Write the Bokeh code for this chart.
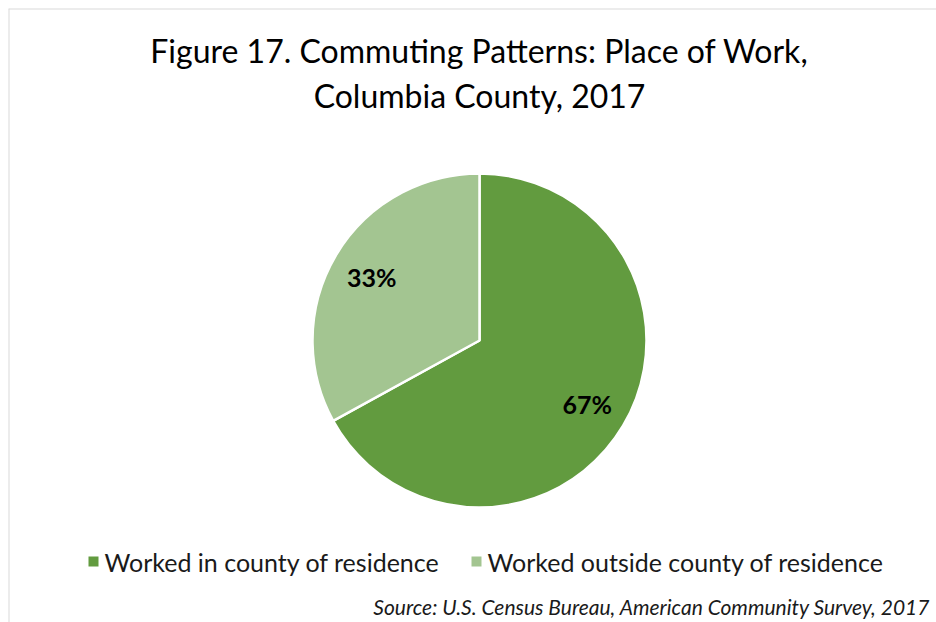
import math
from bokeh.plotting import figure
from bokeh.models import Range1d, ColumnDataSource, Span
from bokeh.core.properties import value
from bokeh.embed import file_html
from bokeh.resources import INLINE

# ---- data ----
categories = ["Worked in county of residence", "Worked outside county of residence"]
shares = [67, 33]
labels = ["67%", "33%"]
colors = ["#629B3F", "#A3C591"]
title_lines = ["Figure 17. Commuting Patterns: Place of Work,", "Columbia County, 2017"]
source_note = "Source: U.S. Census Bureau, American Community Survey, 2017"

W, H = 936, 622
OFF = 8
FW, FH = W - OFF, H - OFF
FONT = "Lato"

p = figure(width=W, height=H, output_backend="svg", toolbar_location=None,
           x_range=Range1d(0, FW), y_range=Range1d(0, FH),
           min_border_left=OFF, min_border_top=OFF, min_border_right=0, min_border_bottom=0)
p.xaxis.visible = False
p.yaxis.visible = False
p.grid.visible = False
p.background_fill_color = "white"
p.border_fill_color = "white"
p.outline_line_color = None

# chart-area border (only top and left edges are visible in the reference)
p.add_layout(Span(location=0, dimension="height", line_color="#d9d9d9", line_width=2))
p.add_layout(Span(location=FH, dimension="width", line_color="#d9d9d9", line_width=2))


def Y(py):
    return H - py


def X(px):
    return px - OFF


# pie
cx, cy, R = X(479), Y(340), 167
total = sum(shares)
starts, ends, lx, ly = [], [], [], []
a = math.pi / 2
for s in shares:
    sweep = 2 * math.pi * s / total
    starts.append(a)
    ends.append(a - sweep)
    mid = a - sweep / 2
    lx.append(cx + 0.75 * R * math.cos(mid))
    ly.append(cy + 0.75 * R * math.sin(mid))
    a -= sweep

src = ColumnDataSource(dict(start=starts, end=ends, color=colors, label=labels,
                            lx=lx, ly=ly, cat=categories))
p.wedge(x=cx, y=cy, radius=R, radius_units="screen", start_angle="start", end_angle="end",
        direction="clock", fill_color="color", line_color="white", line_width=2.5, source=src)
p.text(x="lx", y="ly", text="label", source=src, text_font=value(FONT), text_font_style="bold",
       text_font_size="25px", text_color="#000000", text_align="center", text_baseline="middle")

# title
p.text(x=[X(479), X(479)], y=[Y(50), Y(95)], text=title_lines, text_font=value(FONT),
       text_font_size="32px", text_color="#000000", text_align="center", text_baseline="middle")

# legend
leg_y = [Y(561), Y(561)]
p.scatter(x=[X(93), X(476)], y=leg_y, marker="square", size=10, fill_color=colors, line_color=None)
p.text(x=[X(104), X(487)], y=leg_y, text=categories, text_font=value(FONT),
       text_font_size="25px", text_color="#1a1a1a", text_align="left", text_baseline="middle")

# source
p.text(x=[X(930)], y=[Y(606)], text=[source_note], text_font=value(FONT), text_font_style="italic",
       text_font_size="21px", text_color="#1a1a1a", text_align="right", text_baseline="middle")

open("out.html", "w").write(file_html(p, INLINE))
